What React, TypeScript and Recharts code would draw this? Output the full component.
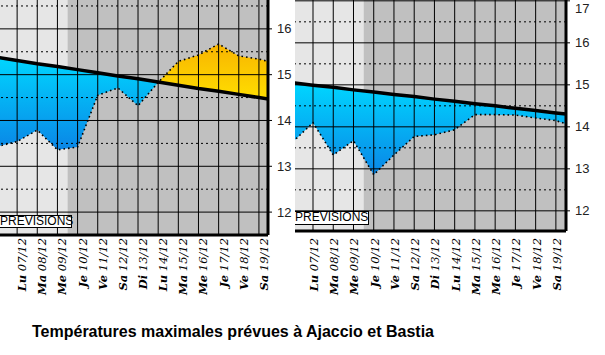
import React from 'react';
import { ComposedChart, Area, Line, XAxis, YAxis, ReferenceLine, ReferenceArea } from 'recharts';

// day index: -1 = 06/12 ... 13 = 20/12 (the outer two only reach the plot edges)
const days = [-1, 0, 1, 2, 3, 4, 5, 6, 7, 8, 9, 10, 11, 12, 13];
const dayNames = ['Di', 'Lu', 'Ma', 'Me', 'Je', 'Ve', 'Sa', 'Di', 'Lu', 'Ma', 'Me', 'Je', 'Ve', 'Sa', 'Di'];
const dates = ['06/12', '07/12', '08/12', '09/12', '10/12', '11/12', '12/12', '13/12', '14/12', '15/12', '16/12', '17/12', '18/12', '19/12', '20/12'];
const dayTicks = [0, 1, 2, 3, 4, 5, 6, 7, 8, 9, 10, 11, 12];

// Ajaccio
const ajaccioNormal = [15.38, 15.31, 15.24, 15.18, 15.11, 15.04, 14.97, 14.91, 14.84, 14.77, 14.7, 14.64, 14.57, 14.5, 14.43];
const ajaccioForecast = [13.43, 13.54, 13.79, 13.36, 13.42, 14.55, 14.71, 14.32, 14.83, 15.29, 15.43, 15.67, 15.41, 15.34, 15.23];

// Bastia
const bastiaNormal = [15.05, 14.99, 14.94, 14.88, 14.83, 14.77, 14.72, 14.66, 14.61, 14.55, 14.5, 14.44, 14.39, 14.33, 14.28];
const bastiaForecast = [13.64, 14.1, 13.33, 13.67, 12.86, 13.33, 13.77, 13.81, 13.93, 14.29, 14.29, 14.28, 14.21, 14.15, 13.99];

const pastEnd = 2.5; // observations / forecasts split

function buildRows(normal: number[], forecast: number[]) {
  return days.map((d, i) => ({
    day: d,
    normal: normal[i],
    forecast: forecast[i],
    below: [Math.min(forecast[i], normal[i]), normal[i]],
    above: [normal[i], Math.max(forecast[i], normal[i])],
  }));
}

function DayTick(props: any) {
  const { x, y, payload, dx, dy } = props;
  const i = days.indexOf(payload.value);
  return (
    <text
      transform={`translate(${x + dx},${y + dy}) rotate(-90)`}
      textAnchor="end"
      fontFamily="DejaVu Serif"
      fontStyle="italic"
      fontSize={11.5}
      fill="#000"
    >
      <tspan fontWeight="bold">{dayNames[i]}</tspan>
      <tspan> {dates[i]}</tspan>
    </text>
  );
}

interface StationProps {
  id: string;
  width: number;
  axisWidth: number;
  xAxisHeight: number;
  xDomain: [number, number];
  yDomain: [number, number];
  yTicks: number[];
  halfTicks: number[];
  normal: number[];
  forecast: number[];
  tickDx: number;
  tickDy: number;
}

function StationChart(p: StationProps) {
  const rows = buildRows(p.normal, p.forecast);
  return (
    <ComposedChart width={p.width} height={305} data={rows} margin={{ top: 0, right: 0, bottom: 0, left: 0 }}>
      <defs>
        <linearGradient id={`blue-${p.id}`} x1="0" y1="0" x2="0" y2="1">
          <stop offset="0%" stopColor="#00d6ff" />
          <stop offset="100%" stopColor="#0a86e6" />
        </linearGradient>
        <linearGradient id={`yellow-${p.id}`} x1="0" y1="0" x2="0" y2="1">
          <stop offset="0%" stopColor="#f8b400" />
          <stop offset="100%" stopColor="#ffdf00" />
        </linearGradient>
      </defs>
      <XAxis
        dataKey="day"
        type="number"
        domain={p.xDomain}
        allowDataOverflow
        ticks={dayTicks}
        interval={0}
        height={p.xAxisHeight}
        tickSize={0}
        tickMargin={0}
        tickLine={false}
        axisLine={{ stroke: '#000', strokeWidth: 3 }}
        tick={(t: any) => <DayTick {...t} dx={p.tickDx} dy={p.tickDy} />}
      />
      <YAxis
        orientation="right"
        type="number"
        domain={p.yDomain}
        allowDataOverflow
        ticks={p.yTicks}
        width={p.axisWidth}
        tickLine={{ stroke: '#000' }}
        tickSize={4}
        tickMargin={5}
        axisLine={{ stroke: '#000', strokeWidth: 3 }}
        tick={{ fill: '#222', fontSize: 13, fontFamily: 'Liberation Sans' }}
      />
      <ReferenceArea x1={p.xDomain[0]} x2={pastEnd} fill="#e6e6e6" fillOpacity={1} stroke="none" />
      <ReferenceArea x1={pastEnd} x2={p.xDomain[1]} fill="#c0c0c0" fillOpacity={1} stroke="none" />
      <Area
        dataKey="below"
        type="linear"
        stroke="none"
        fill={`url(#blue-${p.id})`}
        fillOpacity={1}
        isAnimationActive={false}
        activeDot={false}
      />
      <Area
        dataKey="above"
        type="linear"
        stroke="none"
        fill={`url(#yellow-${p.id})`}
        fillOpacity={1}
        isAnimationActive={false}
        activeDot={false}
      />
      {dayTicks.map((d) => (
        <ReferenceLine key={`v${d}`} x={d} stroke="#000" strokeWidth={1} />
      ))}
      {p.yTicks.map((v) => (
        <ReferenceLine key={`h${v}`} y={v} stroke="#000" strokeWidth={1} />
      ))}
      {p.halfTicks.map((v) => (
        <ReferenceLine key={`d${v}`} y={v} stroke="#000" strokeWidth={1} strokeDasharray="2 3" />
      ))}
      <Line
        dataKey="normal"
        type="linear"
        stroke="#000"
        strokeWidth={3.5}
        dot={false}
        activeDot={false}
        isAnimationActive={false}
      />
      <Line
        dataKey="forecast"
        type="linear"
        stroke="#000"
        strokeWidth={1.6}
        strokeDasharray="1.6 3"
        dot={false}
        activeDot={false}
        isAnimationActive={false}
      />
    </ComposedChart>
  );
}

const boxStyle: React.CSSProperties = {
  position: 'absolute',
  boxSizing: 'border-box',
  border: '1px solid #000',
  background: '#fff',
  fontFamily: 'Liberation Sans',
  fontSize: 12,
  lineHeight: '11px',
  paddingLeft: 1,
  color: '#000',
  whiteSpace: 'nowrap',
};

export default function App() {
  return (
    <div style={{ position: 'fixed', left: 0, top: 0, width: 605, height: 355, background: '#fff', overflow: 'hidden' }}>
      <div style={{ position: 'absolute', left: 0, top: 0, width: 300, height: 305, overflow: 'hidden' }}>
        <StationChart
          id="aja"
          width={300}
          axisWidth={32}
          xAxisHeight={70}
          xDomain={[-0.85, 12.45]}
          yDomain={[11.5, 16.63]}
          yTicks={[12, 13, 14, 15, 16]}
          halfTicks={[12.5, 13.5, 14.5, 15.5, 16.5]}
          normal={ajaccioNormal}
          forecast={ajaccioForecast}
          tickDx={9}
          tickDy={3}
        />
        <div style={{ ...boxStyle, left: -2, top: 215, width: 74, height: 13 }}>PREVISIONS</div>
      </div>
      <div style={{ position: 'absolute', left: 295, top: 0, width: 310, height: 305, overflow: 'hidden' }}>
        <StationChart
          id="bas"
          width={310}
          axisWidth={39}
          xAxisHeight={74}
          xDomain={[-0.89, 12.5]}
          yDomain={[11.52, 17.02]}
          yTicks={[12, 13, 14, 15, 16, 17]}
          halfTicks={[12.5, 13.5, 14.5, 15.5, 16.5]}
          normal={bastiaNormal}
          forecast={bastiaForecast}
          tickDx={5}
          tickDy={7}
        />
        <div style={{ ...boxStyle, left: -2, top: 211, width: 76, height: 14 }}>PREVISIONS</div>
      </div>
      <div
        style={{
          position: 'absolute',
          left: 32,
          top: 323,
          fontFamily: 'Liberation Sans',
          fontWeight: 'bold',
          fontSize: 16,
          color: '#000',
          whiteSpace: 'nowrap',
        }}
      >
        Températures maximales prévues à Ajaccio et Bastia
      </div>
    </div>
  );
}
